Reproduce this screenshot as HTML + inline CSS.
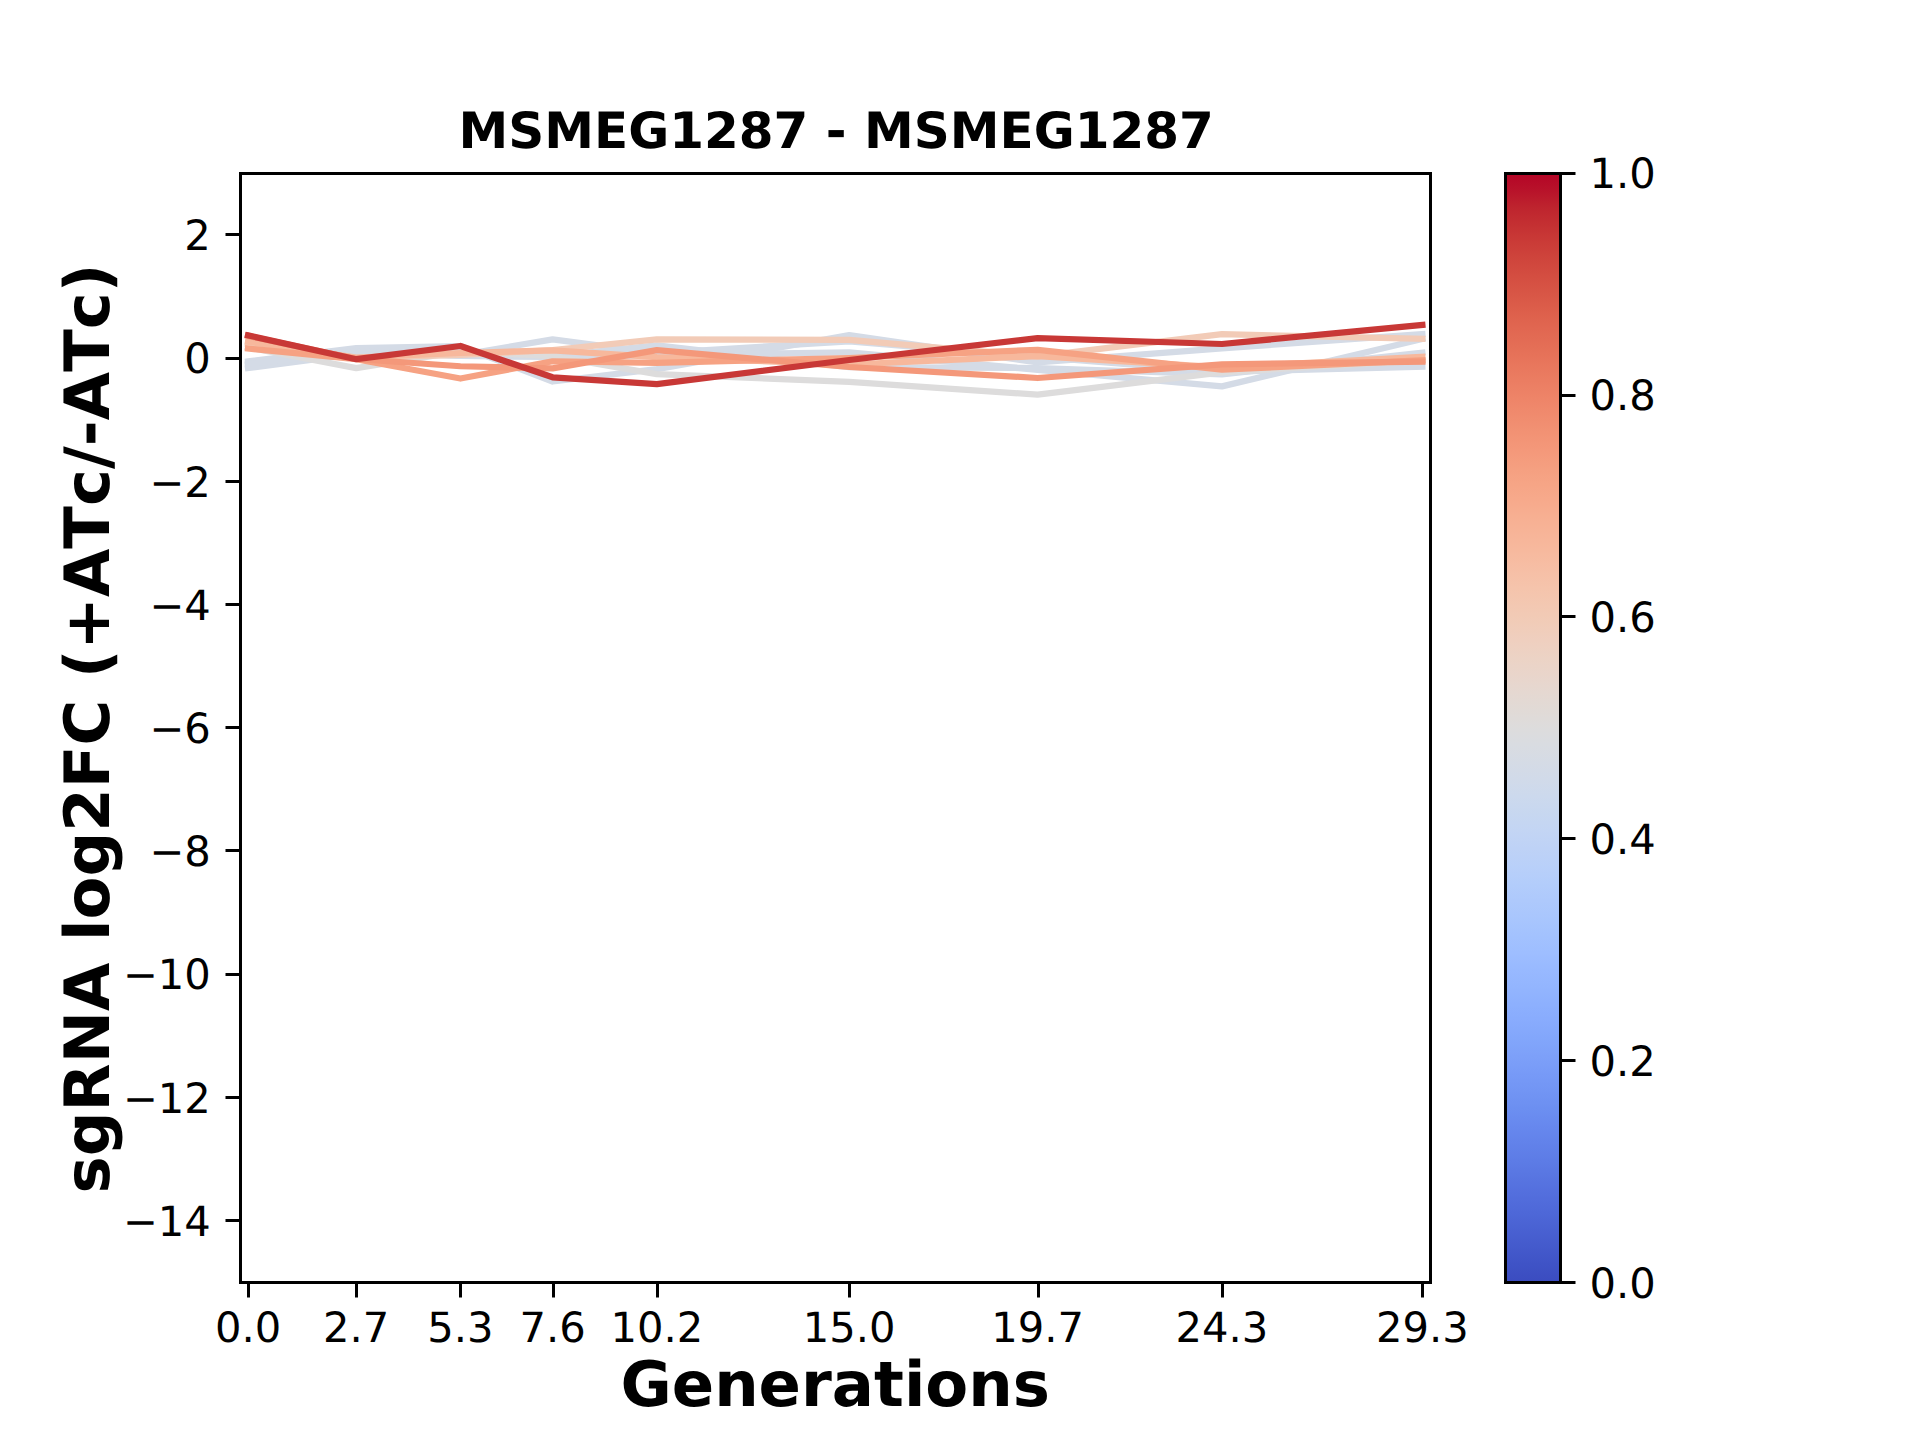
<!DOCTYPE html>
<html lang="en"><head><meta charset="utf-8"><title>MSMEG1287 - MSMEG1287</title>
<style>html,body{margin:0;padding:0;background:#fff}body{width:1920px;height:1440px;overflow:hidden}svg{display:block}text{font-family:"DejaVu Sans","Liberation Sans",sans-serif;fill:#000;font-kerning:none;text-rendering:geometricPrecision}.t{font-size:41.667px}.b{font-weight:700}</style></head><body>
<svg width="1920" height="1440" viewBox="0 0 1920 1440">
<defs><clipPath id="ac"><rect x="240.00" y="172.80" width="1190.40" height="1108.80"/></clipPath>
<linearGradient id="cw" x1="0" y1="0" x2="0" y2="1"><stop offset="0.0000" stop-color="#b40426"/><stop offset="0.0156" stop-color="#b8122a"/><stop offset="0.0312" stop-color="#be242e"/><stop offset="0.0469" stop-color="#c43032"/><stop offset="0.0625" stop-color="#ca3b37"/><stop offset="0.0781" stop-color="#cf453c"/><stop offset="0.0938" stop-color="#d44e41"/><stop offset="0.1094" stop-color="#d85646"/><stop offset="0.1250" stop-color="#dd5f4b"/><stop offset="0.1406" stop-color="#e16751"/><stop offset="0.1562" stop-color="#e46e56"/><stop offset="0.1719" stop-color="#e8765c"/><stop offset="0.1875" stop-color="#eb7d62"/><stop offset="0.2031" stop-color="#ee8468"/><stop offset="0.2188" stop-color="#f08b6e"/><stop offset="0.2344" stop-color="#f29274"/><stop offset="0.2500" stop-color="#f4987a"/><stop offset="0.2656" stop-color="#f59f80"/><stop offset="0.2812" stop-color="#f6a586"/><stop offset="0.2969" stop-color="#f7aa8c"/><stop offset="0.3125" stop-color="#f7b093"/><stop offset="0.3281" stop-color="#f7b599"/><stop offset="0.3438" stop-color="#f7ba9f"/><stop offset="0.3594" stop-color="#f6bfa6"/><stop offset="0.3750" stop-color="#f5c4ac"/><stop offset="0.3906" stop-color="#f3c8b2"/><stop offset="0.4062" stop-color="#f1ccb8"/><stop offset="0.4219" stop-color="#efcfbf"/><stop offset="0.4375" stop-color="#ecd3c5"/><stop offset="0.4531" stop-color="#e9d5cb"/><stop offset="0.4688" stop-color="#e5d8d1"/><stop offset="0.4844" stop-color="#e1dad6"/><stop offset="0.5000" stop-color="#dddcdc"/><stop offset="0.5156" stop-color="#d9dce1"/><stop offset="0.5312" stop-color="#d5dbe5"/><stop offset="0.5469" stop-color="#d1dae9"/><stop offset="0.5625" stop-color="#ccd9ed"/><stop offset="0.5781" stop-color="#c7d7f0"/><stop offset="0.5938" stop-color="#c3d5f4"/><stop offset="0.6094" stop-color="#bed2f6"/><stop offset="0.6250" stop-color="#b9d0f9"/><stop offset="0.6406" stop-color="#b3cdfb"/><stop offset="0.6562" stop-color="#aec9fc"/><stop offset="0.6719" stop-color="#a9c6fd"/><stop offset="0.6875" stop-color="#a3c2fe"/><stop offset="0.7031" stop-color="#9ebeff"/><stop offset="0.7188" stop-color="#98b9ff"/><stop offset="0.7344" stop-color="#93b5fe"/><stop offset="0.7500" stop-color="#8db0fe"/><stop offset="0.7656" stop-color="#88abfd"/><stop offset="0.7812" stop-color="#82a6fb"/><stop offset="0.7969" stop-color="#7da0f9"/><stop offset="0.8125" stop-color="#779af7"/><stop offset="0.8281" stop-color="#7295f4"/><stop offset="0.8438" stop-color="#6c8ff1"/><stop offset="0.8594" stop-color="#6788ee"/><stop offset="0.8750" stop-color="#6282ea"/><stop offset="0.8906" stop-color="#5d7ce6"/><stop offset="0.9062" stop-color="#5875e1"/><stop offset="0.9219" stop-color="#536edd"/><stop offset="0.9375" stop-color="#4e68d8"/><stop offset="0.9531" stop-color="#4961d2"/><stop offset="0.9688" stop-color="#445acc"/><stop offset="0.9844" stop-color="#3f53c6"/><stop offset="1.0000" stop-color="#3b4cc0"/></linearGradient></defs>
<rect width="1920" height="1440" fill="#fff"/>
<g clip-path="url(#ac)" fill="none" stroke-width="6.250" stroke-linecap="square" stroke-linejoin="round">
<polyline stroke="#d4dbe6" points="248.02,361.40 356.23,348.00 460.44,346.00 552.63,381.50 656.84,369.20 849.23,335.10 1037.61,362.40 1221.98,348.40 1422.38,334.00"/>
<polyline stroke="#d4dbe6" points="248.02,365.00 356.23,351.00 460.44,355.60 552.63,356.25 656.84,345.40 849.23,367.20 1037.61,368.00 1221.98,374.40 1422.38,352.60"/>
<polyline stroke="#d4dbe6" points="248.02,368.10 356.23,354.00 460.44,355.00 552.63,339.30 656.84,353.00 849.23,341.40 1037.61,357.00 1221.98,372.00 1422.38,366.60"/>
<polyline stroke="#d4dbe6" points="248.02,364.00 356.23,352.00 460.44,356.00 552.63,357.00 656.84,355.30 849.23,352.40 1037.61,369.80 1221.98,386.40 1422.38,339.00"/>
<polyline stroke="#dddcdc" points="248.02,347.50 356.23,368.10 460.44,351.50 552.63,356.25 656.84,374.20 849.23,381.80 1037.61,394.60 1221.98,372.30 1422.38,360.50"/>
<polyline stroke="#f2cbb7" points="248.02,344.00 356.23,358.00 460.44,355.00 552.63,350.00 656.84,339.40 849.23,339.90 1037.61,356.40 1221.98,334.20 1422.38,338.80"/>
<polyline stroke="#f7b89c" points="248.02,341.80 356.23,357.50 460.44,353.00 552.63,350.40 656.84,357.10 849.23,364.50 1037.61,356.10 1221.98,367.30 1422.38,356.90"/>
<polyline stroke="#f6a283" points="248.02,348.50 356.23,359.20 460.44,378.50 552.63,361.25 656.84,362.90 849.23,358.00 1037.61,349.80 1221.98,369.60 1422.38,360.20"/>
<polyline stroke="#f4987a" points="248.02,335.80 356.23,359.00 460.44,366.25 552.63,368.30 656.84,350.20 849.23,367.00 1037.61,378.00 1221.98,364.40 1422.38,361.60"/>
<polyline stroke="#c83836" points="248.02,335.40 356.23,359.20 460.44,346.00 552.63,377.30 656.84,384.20 849.23,360.00 1037.61,338.10 1221.98,344.00 1422.38,325.00"/>
</g>
<g stroke="#000" stroke-width="3" fill="none">
<line x1="248.5" y1="1282.5" x2="248.5" y2="1297.5"/>
<line x1="356.5" y1="1282.5" x2="356.5" y2="1297.5"/>
<line x1="460.5" y1="1282.5" x2="460.5" y2="1297.5"/>
<line x1="553.5" y1="1282.5" x2="553.5" y2="1297.5"/>
<line x1="657.5" y1="1282.5" x2="657.5" y2="1297.5"/>
<line x1="849.5" y1="1282.5" x2="849.5" y2="1297.5"/>
<line x1="1038.5" y1="1282.5" x2="1038.5" y2="1297.5"/>
<line x1="1222.5" y1="1282.5" x2="1222.5" y2="1297.5"/>
<line x1="1422.5" y1="1282.5" x2="1422.5" y2="1297.5"/>
<line x1="240.5" y1="234.5" x2="225.5" y2="234.5"/>
<line x1="240.5" y1="358.5" x2="225.5" y2="358.5"/>
<line x1="240.5" y1="481.5" x2="225.5" y2="481.5"/>
<line x1="240.5" y1="604.5" x2="225.5" y2="604.5"/>
<line x1="240.5" y1="727.5" x2="225.5" y2="727.5"/>
<line x1="240.5" y1="850.5" x2="225.5" y2="850.5"/>
<line x1="240.5" y1="974.5" x2="225.5" y2="974.5"/>
<line x1="240.5" y1="1097.5" x2="225.5" y2="1097.5"/>
<line x1="240.5" y1="1220.5" x2="225.5" y2="1220.5"/>
<rect x="240.5" y="173.5" width="1190" height="1109"/>
</g>
<text class="t" text-anchor="middle" x="248.02" y="1341.63">0.0</text>
<text class="t" text-anchor="middle" x="356.23" y="1341.63">2.7</text>
<text class="t" text-anchor="middle" x="460.44" y="1341.63">5.3</text>
<text class="t" text-anchor="middle" x="552.63" y="1341.63">7.6</text>
<text class="t" text-anchor="middle" x="656.84" y="1341.63">10.2</text>
<text class="t" text-anchor="middle" x="849.23" y="1341.63">15.0</text>
<text class="t" text-anchor="middle" x="1037.61" y="1341.63">19.7</text>
<text class="t" text-anchor="middle" x="1221.98" y="1341.63">24.3</text>
<text class="t" text-anchor="middle" x="1422.38" y="1341.63">29.3</text>
<text class="t" text-anchor="end" x="210.83" y="1235.83">−14</text>
<text class="t" text-anchor="end" x="210.83" y="1112.63">−12</text>
<text class="t" text-anchor="end" x="210.83" y="989.43">−10</text>
<text class="t" text-anchor="end" x="210.83" y="866.23">−8</text>
<text class="t" text-anchor="end" x="210.83" y="743.03">−6</text>
<text class="t" text-anchor="end" x="210.83" y="619.83">−4</text>
<text class="t" text-anchor="end" x="210.83" y="496.63">−2</text>
<text class="t" text-anchor="end" x="210.83" y="373.43">0</text>
<text class="t" text-anchor="end" x="210.83" y="250.23">2</text>
<text class="b" id="xl" text-anchor="middle" font-size="62.500" x="835.20" y="1405.50">Generations</text>
<text class="b" id="yl" text-anchor="middle" font-size="62.500" transform="translate(109.41,728.50) rotate(-90)">sgRNA log2FC (+ATc/-ATc)</text>
<text class="b" id="tt" text-anchor="middle" font-size="50.000" x="836.20" y="147.80">MSMEG1287 - MSMEG1287</text>
<rect x="1504.80" y="172.80" width="55.44" height="1108.80" fill="url(#cw)"/>
<g stroke="#000" fill="none">
<line stroke-width="3" x1="1560.5" y1="1282.5" x2="1575.5" y2="1282.5"/>
<line stroke-width="3" x1="1560.5" y1="1060.5" x2="1575.5" y2="1060.5"/>
<line stroke-width="3" x1="1560.5" y1="838.5" x2="1575.5" y2="838.5"/>
<line stroke-width="3" x1="1560.5" y1="616.5" x2="1575.5" y2="616.5"/>
<line stroke-width="3" x1="1560.5" y1="395.5" x2="1575.5" y2="395.5"/>
<line stroke-width="3" x1="1560.5" y1="173.5" x2="1575.5" y2="173.5"/>
<rect stroke-width="3" x="1505.5" y="173.5" width="55" height="1109"/>
</g>
<text class="t" text-anchor="start" x="1589.41" y="1297.70">0.0</text>
<text class="t" text-anchor="start" x="1589.41" y="1075.70">0.2</text>
<text class="t" text-anchor="start" x="1589.41" y="853.70">0.4</text>
<text class="t" text-anchor="start" x="1589.41" y="631.70">0.6</text>
<text class="t" text-anchor="start" x="1589.41" y="409.70">0.8</text>
<text class="t" text-anchor="start" x="1589.41" y="187.70">1.0</text>
</svg></body></html>
